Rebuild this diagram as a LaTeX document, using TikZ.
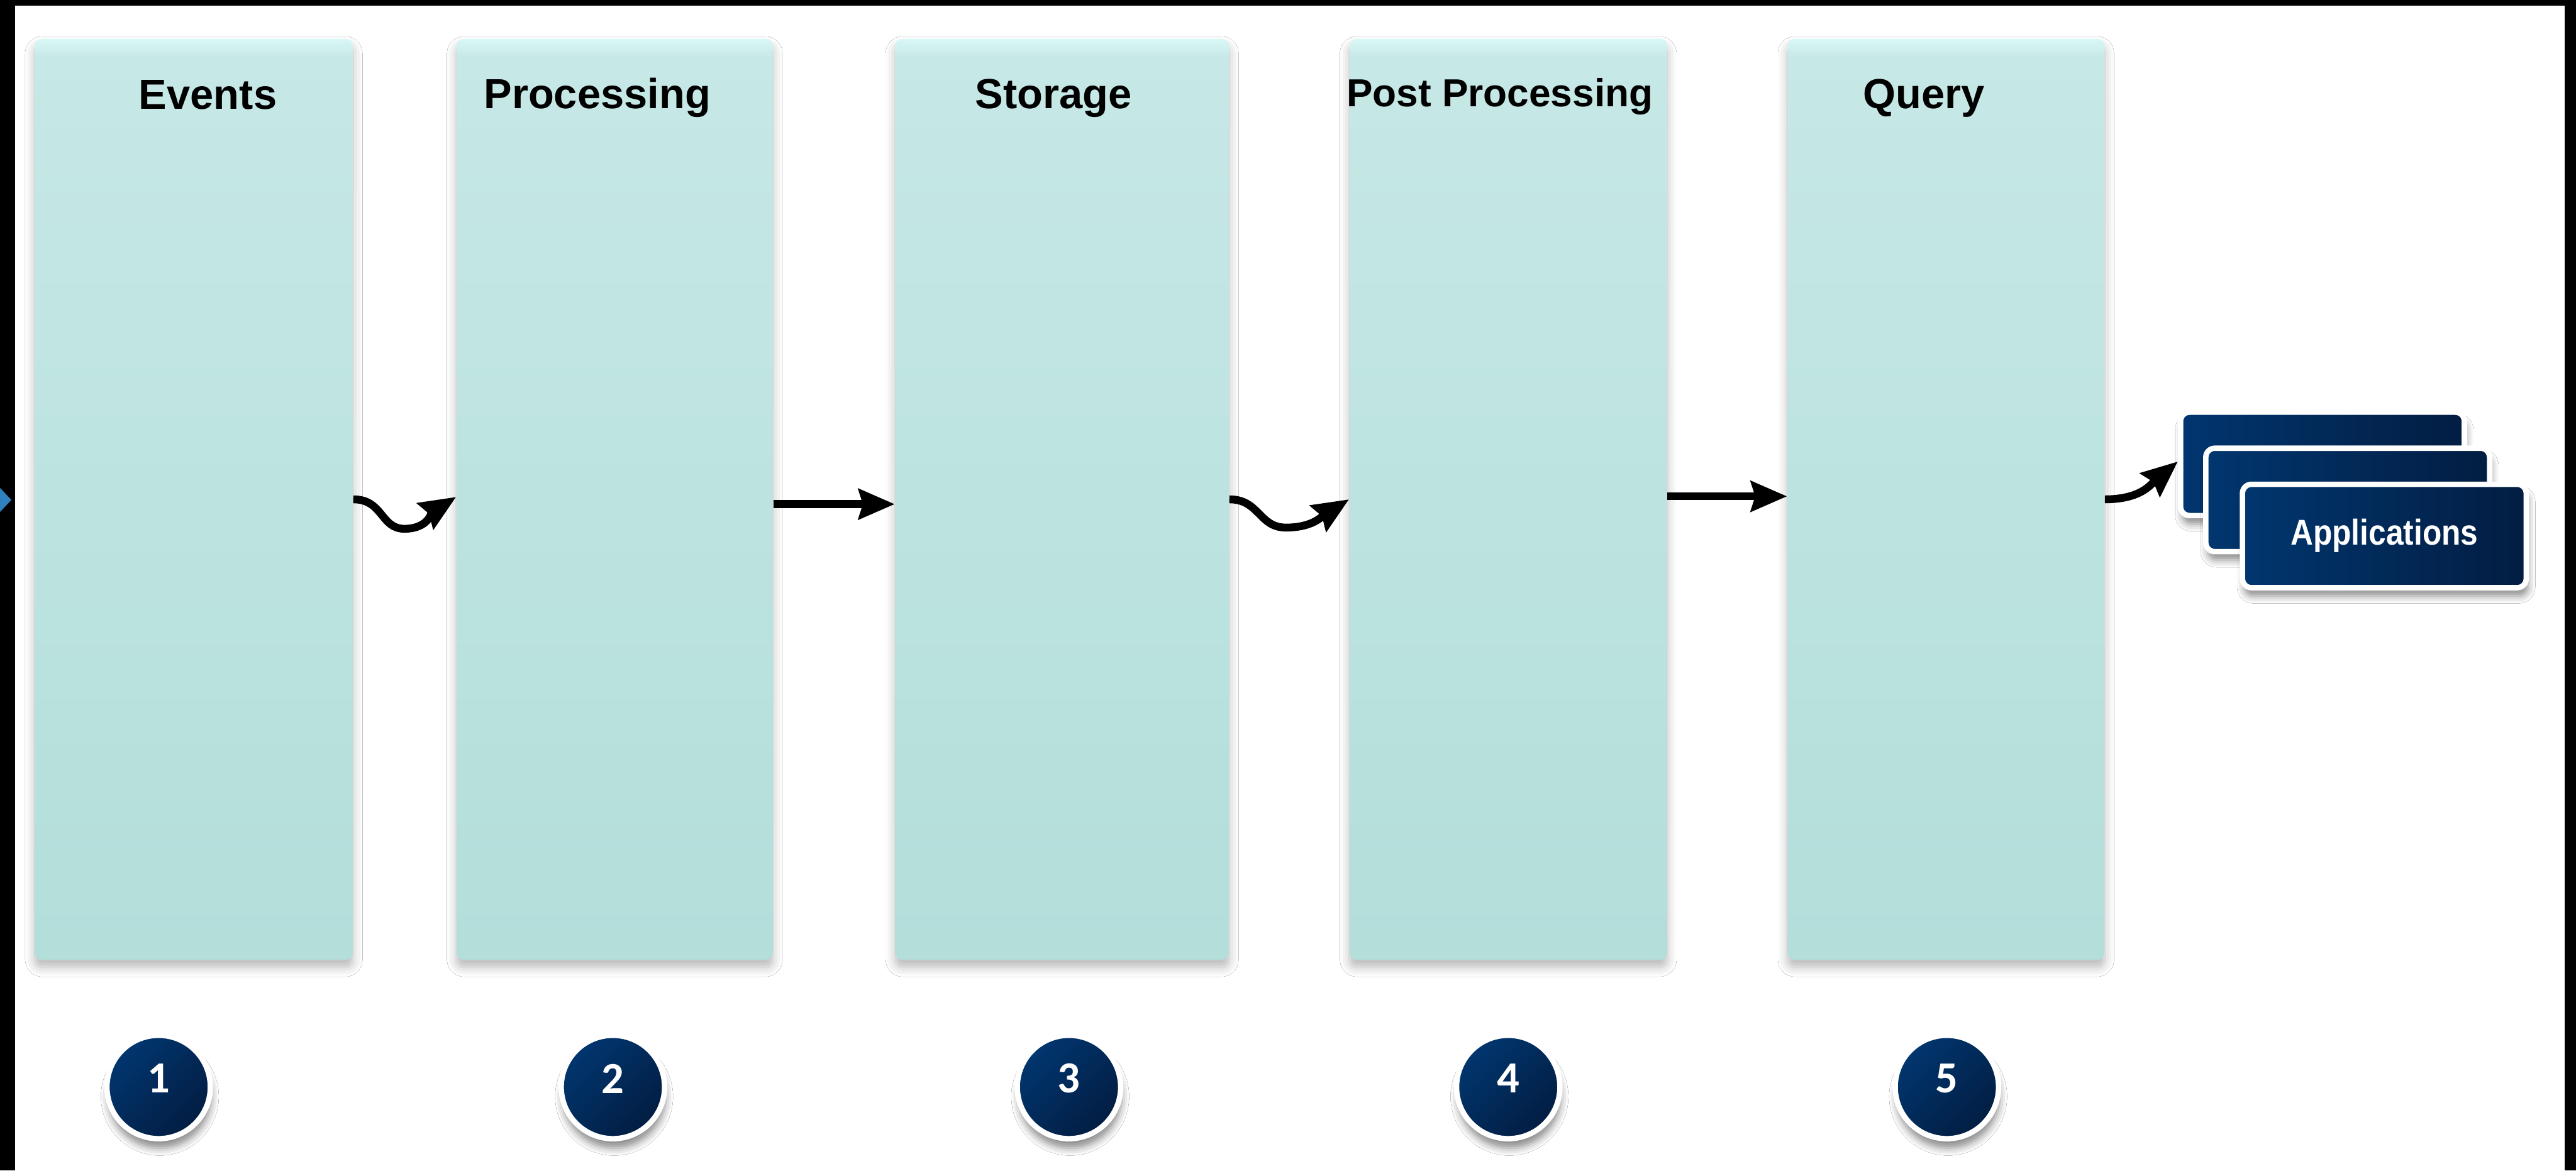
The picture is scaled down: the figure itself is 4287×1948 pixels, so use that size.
\documentclass[tikz,border=0pt]{standalone}
\usepackage{fontspec}
\setmainfont{Liberation Sans}
\newfontfamily\numfont{Carlito}
\usetikzlibrary{arrows.meta,shadows.blur,calc}

\definecolor{tealtop}{HTML}{D9F8F6}
\definecolor{tealmid}{HTML}{C6E8E6}
\definecolor{tealbot}{HTML}{B3DEDA}
\definecolor{navyA}{HTML}{01366F}
\definecolor{navyB}{HTML}{021D42}
\definecolor{arrowblue}{HTML}{2E80BF}

\pgfdeclareverticalshading{colshade}{100bp}{color(0bp)=(tealbot); color(25bp)=(tealbot); color(74bp)=(tealmid); color(75bp)=(tealtop); color(100bp)=(tealtop)}

\begin{document}
\begin{tikzpicture}[x=0.01cm,y=-0.01cm,
  colbox/.style={rectangle, rounded corners=0.12cm, inner sep=0pt, minimum height=15.32cm,
    shade, shading=colshade,
    blur shadow={shadow xshift=0cm, shadow yshift=-0.12cm, shadow blur radius=0.16cm, shadow opacity=28}},
  coltitle/.style={anchor=base, font=\bfseries\fontsize{19.9pt}{24pt}\selectfont, inner sep=0pt},
  flow/.style={line width=0.13cm, -{Stealth[length=0.6cm,width=0.5cm,inset=0.07cm]}},
  appbox/.style={rectangle, rounded corners=0.15cm, draw=white, line width=0.09cm,
    minimum width=4.72cm, minimum height=1.72cm, inner sep=0pt,
    left color=navyA, right color=navyB,
    blur shadow={shadow xshift=0.03cm, shadow yshift=-0.14cm, shadow blur radius=0.12cm, shadow opacity=45}},
  numdisc/.style={circle, minimum size=1.72cm, inner sep=0pt, draw=white, line width=0.09cm,
    top color=navyA, bottom color=navyB, shading angle=45,
    blur shadow={shadow xshift=0.02cm, shadow yshift=-0.16cm, shadow blur radius=0.12cm, shadow opacity=45}},
  numtext/.style={text=white, font=\numfont\bfseries\fontsize{21pt}{24pt}\selectfont, inner sep=0pt}
]
\useasboundingbox (0,0) rectangle (4287,1948);
% frame
\fill[black] (0,0) rectangle (4287,1948);
\fill[white] (25,9) rectangle (4268,1948);
\fill[arrowblue] (0,812) -- (19,832) -- (0,852) -- cycle;

% columns
\node[colbox, minimum width=5.29cm] (ev) at (322.5,831) {};
\node[colbox, minimum width=5.26cm] (pr) at (1023,831) {};
\node[colbox, minimum width=5.55cm] (st) at (1767.5,831) {};
\node[colbox, minimum width=5.28cm] (pp) at (2510,831) {};
\node[colbox, minimum width=5.27cm] (qu) at (3238.5,831) {};

% titles
\node[coltitle] (tev) at (346,182) {Events};
\node[coltitle] (tpr) at (994,181) {Processing};
\node[coltitle] (tst) at (1753,181) {Storage};
\node[coltitle, font=\bfseries\fontsize{18.5pt}{22pt}\selectfont] (tpp) at (2496,177) {Post Processing};
\node[coltitle] (tqu) at (3202,181) {Query};

% applications stack
\node[appbox] (ab) at (3865,772) {};
\node[appbox] (am) at (3907,832) {};
\node[appbox] (af) at (3968,892) {};
\node[anchor=base, text=white, inner sep=0pt, font=\bfseries\fontsize{17pt}{20pt}\selectfont, xscale=0.87] (apptxt) at (3968,907) {Applications};

% connectors
\draw[flow] (ev.east) .. controls +(50,0) and +(-40,0) .. (673,880)
  .. controls +(40,0) and +(-40,25) .. ([yshift=0.04cm]pr.west);
\draw[flow] ([yshift=-0.08cm]pr.east) -- ([yshift=-0.08cm]st.west);
\draw[flow] (st.east) .. controls +(50,0) and +(-45,0) .. (2140,878)
  .. controls +(45,0) and +(-45,28) .. (pp.west);
\draw[flow] ([yshift=0.05cm]pp.east) -- ([yshift=0.05cm]qu.west);
\draw[flow] (qu.east) .. controls +(60,0) and +(-45,38) .. ([yshift=0.04cm]ab.west);

% numbered discs
\node[numdisc] (n1) at (264,1809) {};
\node[numdisc] (n2) at (1020,1809) {};
\node[numdisc] (n3) at (1779,1809) {};
\node[numdisc] (n4) at (2510,1809) {};
\node[numdisc] (n5) at (3240,1809) {};
\node[numtext] (d1) at ($(n1)+(0,-14)$) {1};
\node[numtext] (d2) at ($(n2)+(0,-14)$) {2};
\node[numtext] (d3) at ($(n3)+(0,-14)$) {3};
\node[numtext] (d4) at ($(n4)+(0,-14)$) {4};
\node[numtext] (d5) at ($(n5)+(0,-14)$) {5};
\end{tikzpicture}
\end{document}
